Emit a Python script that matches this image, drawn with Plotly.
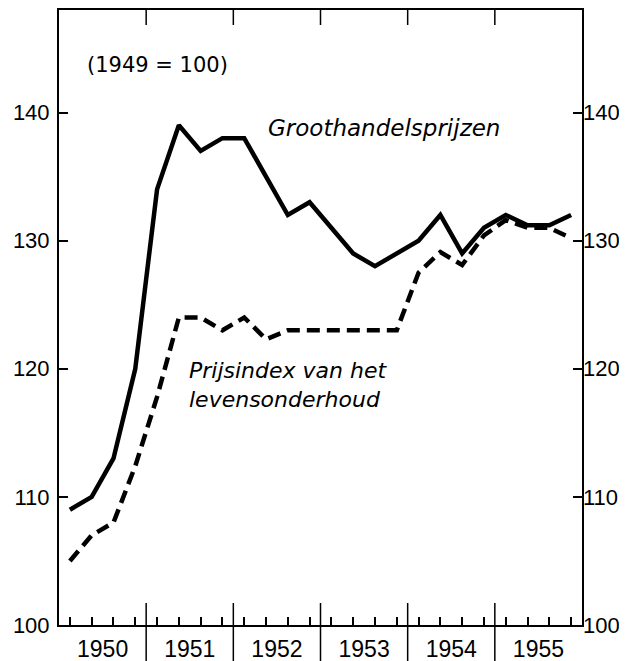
import plotly.graph_objects as go

# quarterly data 1950-1955, x in years since start of 1950 (mid-quarter)
years = ["1950", "1951", "1952", "1953", "1954", "1955"]
quarter_pos = [y + (q + 0.5) / 4 for y in range(6) for q in range(4)]

groothandel = [109, 110, 113, 120, 134, 139, 137, 138,
               138, 135, 132, 133, 131, 129, 128, 129,
               130, 132, 129, 131, 132, 131.2, 131.2, 132]

levensonderhoud = [105, 107, 108, 112.4, 117.8, 124, 124, 123,
                   124, 122.3, 123, 123, 123, 123, 123, 123,
                   127.5, 129.1, 128.1, 130.4, 131.6, 131, 131, 130.2]

y_ticks = [100, 110, 120, 130, 140]

# page body has an 8px margin, so the figure is drawn 8px in from the corner
W, H = 619, 653
L, R, T, B = 51, 45, 2, 36
ph = H - T - B

fig = go.Figure()
fig.add_trace(go.Scatter(x=quarter_pos, y=groothandel, mode="lines",
                         line=dict(color="black", width=4.5), showlegend=False))
fig.add_trace(go.Scatter(x=quarter_pos, y=levensonderhoud, mode="lines",
                         line=dict(color="black", width=4.5, dash="13px,7px"),
                         showlegend=False))
fig.add_trace(go.Scatter(x=[None], y=[None], yaxis="y2", showlegend=False))

shapes = []
for k in range(1, 6):
    xp = k / 6
    shapes.append(dict(type="line", xref="paper", yref="paper", x0=xp, x1=xp,
                       y0=22 / ph, y1=-(B + 2) / ph, line=dict(color="black", width=1.5)))
    shapes.append(dict(type="line", xref="paper", yref="paper", x0=xp, x1=xp,
                       y0=1, y1=1 - 15 / ph, line=dict(color="black", width=1.5)))

tick_font = dict(family="Liberation Sans", size=22, color="black")

fig.update_layout(
    width=W, height=H,
    margin=dict(l=L, r=R, t=T, b=B, pad=0),
    paper_bgcolor="white", plot_bgcolor="white",
    font=dict(family="Liberation Sans", size=21, color="black"),
    xaxis=dict(range=[0, 6], tickvals=[0.5, 1.5, 2.5, 3.5, 4.5, 5.5], ticktext=years,
               ticks="", showgrid=False, zeroline=False, showline=True,
               linecolor="black", linewidth=2, mirror=True, automargin=False,
               ticklabelstandoff=2,
               tickfont=dict(family="Liberation Sans", size=23, color="black"),
               minor=dict(tickvals=quarter_pos, ticks="inside", ticklen=8,
                          tickwidth=1.5, tickcolor="black", showgrid=False)),
    yaxis=dict(range=[100, 148], tickvals=y_ticks, ticks="inside", ticklen=9,
               tickwidth=1.5, tickcolor="black", showgrid=False, zeroline=False,
               showline=True, linecolor="black", linewidth=2, mirror="ticks",
               automargin=False, ticklabelstandoff=3, tickfont=tick_font),
    yaxis2=dict(range=[100, 148], tickvals=y_ticks, overlaying="y", side="right",
                ticks="", showgrid=False, zeroline=False, showline=False,
                automargin=False, tickfont=tick_font),
    shapes=shapes,
    annotations=[
        dict(x=1.13, y=143.7, xref="x", yref="y", text="(1949 = 100)", showarrow=False,
             font=dict(family="DejaVu Sans", size=21)),
        dict(x=3.73, y=138.8, xref="x", yref="y", text="<i>Groothandelsprijzen</i>",
             showarrow=False, font=dict(family="DejaVu Sans", size=23)),
        dict(x=1.47, y=118.7, xref="x", yref="y", xanchor="left",
             text="<i>Prijsindex van het<br>levensonderhoud</i>", align="left",
             showarrow=False, font=dict(family="DejaVu Sans", size=22)),
    ],
)

fig.write_html("out.html")
